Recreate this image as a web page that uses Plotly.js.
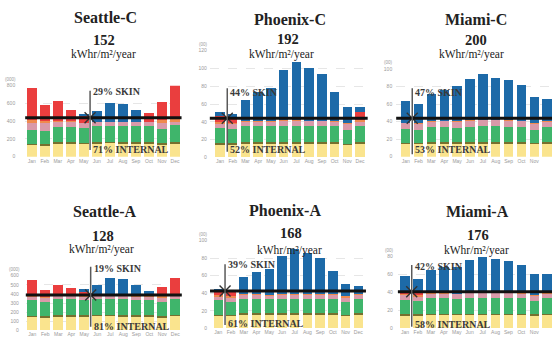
<!DOCTYPE html>
<html><head><meta charset="utf-8">
<script src="https://cdn.plot.ly/plotly-3.0.1.min.js"></script>
<style>html,body{margin:0;padding:0;background:#fff}#chart{width:552px;height:339px}</style>
</head><body><div id="chart"></div>
<script>
// ---------------- DATA ----------------
const months = ['Jan','Feb','Mar','Apr','May','Jun','Jul','Aug','Sep','Oct','Nov','Dec'];
const panelNames = ['Seattle-C','Phoenix-C','Miami-C','Seattle-A','Phoenix-A','Miami-A'];
const annualEUI = [152, 192, 200, 128, 168, 176];
const skinPct = [29, 44, 47, 19, 39, 42];
const internalPct = [71, 52, 53, 81, 61, 58];
const balanceLoad = [439, 43.9, 43.8, 388, 42.6, 40.9];
const balanceMonth = [4.48, 0.57, 0.51, 4.49, 0.53, 0.52];
const unitLabels = ['(000)', '(00)', '(00)', '(000)', '(00)', '(00)'];
const yTickVals = [
  [0,200,400,600,800],
  [0,20,40,60,80,100,120],
  [0,20,40,60,80,100],
  [0,100,200,300,400,500,600],
  [0,20,40,60,80,100],
  [0,20,40,60,80]
];

// Seattle-C
const seattleC_lights  = [130,125,145,145,140,148,150,148,148,146,135,148];
const seattleC_plug    = [18,18,18,18,18,18,18,18,18,18,18,18];
const seattleC_equip   = [150,152,172,175,162,179,182,182,179,181,157,186];
const seattleC_people  = [84,83,55,52,60,45,45,44,45,43,70,43];
const seattleC_solar   = [30,27,10,8,5,2,0,0,0,6,28,25];
const seattleC_heating = [358,177,227,128,70,0,0,0,0,102,212,387];
const seattleC_cooling = [0,0,0,0,22,122,206,198,136,0,0,0];
// Phoenix-C
const phoenixC_lights  = [14,14,15,15,15,15,15,15,15,15,13.5,15];
const phoenixC_plug    = [2,2,2,2,2,2,2,2,2,2,2,2];
const phoenixC_equip   = [17,16,18,18,18,18.5,18.5,18,18,18,15.5,18];
const phoenixC_people  = [5,5,5,5,5,5.5,5.5,5.5,5.5,5,6,5];
const phoenixC_solar   = [2,2,1,1,1,0.5,0.5,0.5,0.5,1,2,2];
const phoenixC_heating = [6.5,5,0,0,0,0,0,0,0,0,0,9.5];
const phoenixC_cooling = [4.9,4.7,24,32,37,56.5,65.5,59,52.5,32,17.6,5.5];
// Miami-C
const miamiC_lights  = [14,14,15,15,15,15,15,15,15,15,14,15];
const miamiC_plug    = [2,2,2,2,2,2,2,2,2,2,2,2];
const miamiC_equip   = [16,15,17,17,16,17,17.5,17.5,17,17,15,17];
const miamiC_people  = [6,6,6,6.5,7,7,7,7,7,6.5,6,6];
const miamiC_solar   = [1,1,0.5,0.5,0.5,0.5,0.5,0.5,0.5,0.5,1,1];
const miamiC_heating = [0,0,0,0,0,0,0,0,0,0,0,0];
const miamiC_cooling = [25,22,31.5,35,40.5,47.5,52,48,45.5,41,30,25];
// Seattle-A
const seattleA_lights  = [143,139,150,150,148,152,152,150,150,150,139,152];
const seattleA_plug    = [18,18,18,18,18,18,18,18,18,18,18,18];
const seattleA_equip   = [172,158,172,172,169,170,170,172,170,170,151,170];
const seattleA_people  = [37,44,32,32,33,32,32,32,32,32,52,32];
const seattleA_solar   = [25,11,10,23,4,8,6,4,2,4,25,28];
const seattleA_heating = [158,73,116,66,48,0,0,0,0,0,87,179];
const seattleA_cooling = [0,0,0,0,30,118,201,188,126,62,0,0];
// Phoenix-A
const phoenixA_lights  = [13.5,13.5,15,15,15,15,15,15,15,15,13.5,15];
const phoenixA_plug    = [2,2,2,2,2,2,2,2,2,2,2,2];
const phoenixA_equip   = [16.5,14.5,17,17,16,17,17,17,17,17,14.5,17];
const phoenixA_people  = [4,5,4,4,4,4,4,4,4,4,5,4];
const phoenixA_solar   = [2,2,1,1,1,1,1,1,1,1,2,1];
const phoenixA_heating = [4,4,0,0,0,0,0,0,0,0,0,0];
const phoenixA_cooling = [3,2,19,25,30,44,52,47,41,26,14,9];
// Miami-A
const miamiA_lights  = [14,13.5,14.5,14.5,14.5,14.5,14.5,14.5,14.5,14.5,13.5,14.5];
const miamiA_plug    = [2,2,2,2,2,2,2,2,2,2,2,2];
const miamiA_equip   = [16,14.5,17,17,16.5,17,17,17,17,17,15.5,17];
const miamiA_people  = [5,5,5,5,5,5.5,5.5,5.5,5.5,5,5,5];
const miamiA_solar   = [1.5,2,0.5,0.5,0.5,0.5,0.5,0.5,0.5,0.5,1.5,1];
const miamiA_heating = [1,2,0,0,0,0,0,0,0,0,0,0];
const miamiA_cooling = [18.5,16,26,30,29.5,36.5,40.5,37.5,35.5,32,23.5,21.5];

const panelSeries = [
  [seattleC_lights, seattleC_plug, seattleC_equip, seattleC_people, seattleC_solar, seattleC_heating, seattleC_cooling],
  [phoenixC_lights, phoenixC_plug, phoenixC_equip, phoenixC_people, phoenixC_solar, phoenixC_heating, phoenixC_cooling],
  [miamiC_lights, miamiC_plug, miamiC_equip, miamiC_people, miamiC_solar, miamiC_heating, miamiC_cooling],
  [seattleA_lights, seattleA_plug, seattleA_equip, seattleA_people, seattleA_solar, seattleA_heating, seattleA_cooling],
  [phoenixA_lights, phoenixA_plug, phoenixA_equip, phoenixA_people, phoenixA_solar, phoenixA_heating, phoenixA_cooling],
  [miamiA_lights, miamiA_plug, miamiA_equip, miamiA_people, miamiA_solar, miamiA_heating, miamiA_cooling]
];

// ---------------- STYLE / LAYOUT ----------------
const layerColors = ['#fae48e', '#77702e', '#3fb56b', '#d99aa9', '#ef8a4e', '#ea3e3e', '#1d6aa8'];
const W = 552, H = 339;
const fx = p => p / W, fy = p => 1 - p / H;
const geom = [
  {xJan:31.7, step:13.03, xs:-0.5,  xe:11.5, y0:156.7, yt:85.7,  lab:9, vt:90.7,  vb:150,   tx:[105,103.5,103], ty:[17,40.5,54.5], sk:91.7,  it:149},
  {xJan:220,  step:12.73, xs:-0.8,  xe:11.6, y0:157.3, yt:50.7,  lab:2, vt:88.3,  vb:151.7, tx:[290,288,281],   ty:[19.5,39,54.5], sk:92.3,  it:149.3},
  {xJan:405.7,step:12.86, xs:-0.74, xe:null, y0:156.7, yt:69,    lab:3, vt:88.3,  vb:154.3, tx:[476,476,471],   ty:[19,40.5,55], sk:92.3,  it:149.3},
  {xJan:32.3, step:13.0,  xs:-0.5,  xe:11.5, y0:330.3, yt:275.7, lab:6, vt:266.7, vb:326.7, tx:[104.5,102.5,101], ty:[211.7,236,249.5], sk:268, it:326},
  {xJan:218.3,step:12.73, xs:-0.65, xe:11.6, y0:328.3, yt:240.7, lab:2, vt:264.3, vb:325,   tx:[285,290.5,289], ty:[210,233,250], sk:264.3, it:323},
  {xJan:405,  step:12.93, xs:-0.55, xe:null, y0:328.3, yt:256.7, lab:4, vt:265,   vb:326.7, tx:[477,478,476],   ty:[211.7,234.5,250], sk:266.7, it:324.3}
];

const serif = 'Liberation Serif, Times New Roman, serif';
const sans = 'Liberation Sans, Arial, sans-serif';
const xIdx = months.map((m, i) => i);

const traces = [];
const layout = {
  width: W, height: H, margin: {l:0, r:0, t:0, b:0},
  paper_bgcolor: '#fff', plot_bgcolor: 'rgba(0,0,0,0)',
  barmode: 'stack', showlegend: false, bargap: 0.28,
  shapes: [], annotations: []
};

geom.forEach((g, i) => {
  const n = i + 1;
  const xa = 'x' + n, ya = 'y' + n;
  const xe = g.xe === null ? (W - g.xJan) / g.step : g.xe;
  const yTop = yTickVals[i][yTickVals[i].length - 1];
  layout['xaxis' + n] = {
    domain: [fx(g.xJan + g.xs * g.step), Math.min(1, fx(g.xJan + xe * g.step))],
    range: [g.xs, xe], anchor: ya,
    tickvals: xIdx, ticktext: months, ticks: '', showgrid: false, zeroline: false, showline: false,
    tickfont: {family: sans, size: 5, color: '#9a9a9a'}, fixedrange: true
  };
  layout['yaxis' + n] = {
    domain: [fy(g.y0), fy(g.yt)], range: [0, yTop], anchor: xa,
    tickvals: yTickVals[i], ticks: '', showgrid: true, gridcolor: '#dcdcdc', griddash: 'dash', gridwidth: 0.7,
    zeroline: false, showline: false, ticklabelstandoff: g.lab,
    tickfont: {family: sans, size: 5, color: '#9a9a9a'}, fixedrange: true
  };
  panelSeries[i].forEach((vals, k) => {
    traces.push({
      type: 'bar', x: xIdx, y: vals, xaxis: xa, yaxis: ya, width: 0.74,
      marker: {color: layerColors[k], line: {width: 0}}, cliponaxis: false, hoverinfo: 'skip'
    });
  });
  // asterisk at the balance point
  traces.push({
    type: 'scatter', mode: 'markers', x: [balanceMonth[i]], y: [balanceLoad[i]], xaxis: xa, yaxis: ya,
    marker: {symbol: 'x-thin-open', size: 11, color: '#333', line: {color: '#333', width: 1.4}}, cliponaxis: false, hoverinfo: 'skip'
  });
  // balance line (drawn above the bars)
  layout.shapes.push({type: 'line', xref: xa + ' domain', x0: 0, x1: 1, yref: ya, y0: balanceLoad[i], y1: balanceLoad[i],
    line: {color: '#111', width: 3}});
  // vertical divider
  layout.shapes.push({type: 'line', xref: xa, x0: balanceMonth[i], x1: balanceMonth[i], yref: 'paper', y0: fy(g.vb), y1: fy(g.vt),
    line: {color: '#5a5a5a', width: 1.5}});
  // texts
  const ann = (x, xref, y, text, size, bold, xanchor, color, xshift) => layout.annotations.push({
    x, xref, y: fy(y), yref: 'paper', text: bold ? '<b>' + text + '</b>' : text, showarrow: false,
    xanchor: xanchor || 'center', yanchor: 'middle', xshift: xshift || 0,
    font: {family: serif, size, color: color || '#222'}
  });
  ann(fx(g.tx[0]), 'paper', g.ty[0], panelNames[i], 16, true);
  ann(fx(g.tx[1]), 'paper', g.ty[1], String(annualEUI[i]), 14.5, true);
  ann(fx(g.tx[2]), 'paper', g.ty[2], 'kWhr/m²/year', 11.5, false);
  ann(balanceMonth[i], xa, g.sk, skinPct[i] + '% SKIN', 10, true, 'left', '#3a3a3a', 1);
  ann(balanceMonth[i], xa, g.it, internalPct[i] + '% INTERNAL', 10, true, 'left', '#3a3a3a', 1);
  layout.annotations.push({
    x: 0, xref: xa + ' domain', y: yTop, yref: ya, text: unitLabels[i], showarrow: false,
    xanchor: 'right', yanchor: 'bottom', xshift: -g.lab + 2, yshift: 2,
    font: {family: sans, size: 4.5, color: '#9a9a9a'}
  });
});

Plotly.newPlot('chart', traces, layout, {displayModeBar: false, staticPlot: true});
</script>
</body></html>
